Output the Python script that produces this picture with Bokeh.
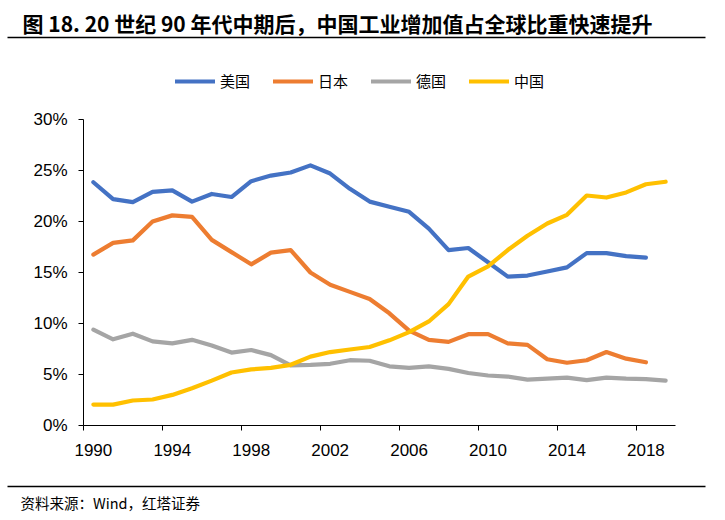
from bokeh.plotting import figure
from bokeh.models import (Range1d, FixedTicker, Legend, LegendItem, Label,
                          BoxAnnotation, LinearAxis)
from bokeh.embed import file_html
from bokeh.resources import INLINE

# ---- data ----
years = list(range(1990, 2020))
usa = [23.85, 22.2, 21.9, 22.9, 23.05, 21.95, 22.7, 22.4, 23.95, 24.5,
       24.8, 25.5, 24.7, 23.2, 21.95, 21.45, 20.95, 19.3, 17.2, 17.4,
       16.0, 14.6, 14.7, 15.1, 15.5, 16.9, 16.9, 16.6, 16.45]
japan = [16.75, 17.9, 18.15, 20.0, 20.6, 20.45, 18.2, 17.0, 15.8, 16.95,
         17.2, 15.0, 13.8, 13.1, 12.4, 11.0, 9.3, 8.4, 8.2, 8.95,
         8.95, 8.05, 7.9, 6.5, 6.15, 6.4, 7.2, 6.55, 6.2]
germany = [9.4, 8.45, 9.0, 8.25, 8.05, 8.4, 7.85, 7.15, 7.4, 6.9,
           5.9, 5.95, 6.05, 6.4, 6.35, 5.8, 5.65, 5.8, 5.55, 5.15,
           4.9, 4.8, 4.5, 4.6, 4.7, 4.45, 4.7, 4.6, 4.55, 4.4]
china = [2.05, 2.05, 2.45, 2.55, 3.0, 3.65, 4.4, 5.2, 5.5, 5.65,
         5.95, 6.75, 7.2, 7.45, 7.7, 8.35, 9.15, 10.2, 11.9, 14.6,
         15.6, 17.2, 18.6, 19.8, 20.65, 22.55, 22.35, 22.85, 23.65, 23.9]
series_names = ["美国", "日本", "德国", "中国"]
x_tick_years = [1990, 1994, 1998, 2002, 2006, 2010, 2014, 2018]
y_ticks = [0, 5, 10, 15, 20, 25, 30]
y_tick_labels = ["0%", "5%", "10%", "15%", "20%", "25%", "30%"]
title_text = "图 18. 20 世纪 90 年代中期后，中国工业增加值占全球比重快速提升"
source_text = "资料来源：Wind，红塔证券"

# ---- layout (pixels) ----
W, H = 717, 518
PL, PR = 83, 675        # plot area left / right
PT, PB = 119, 425       # plot area top / bottom
X0, X1 = years[0] - 0.5, years[-1] + 0.5
Y0, Y1 = y_ticks[0], y_ticks[-1]
sx = (PR - PL) / (X1 - X0)
sy = (PB - PT) / (Y1 - Y0)

colors = ["#4472C4", "#ED7D31", "#A5A5A5", "#FFC000"]
CJK = "Noto Sans CJK SC"
LAT = "Liberation Sans"

p = figure(width=W, height=H, min_border=0,
           x_range=Range1d(X0 - PL / sx, X1 + (W - PR) / sx),
           y_range=Range1d(Y0 - (H - PB) / sy, Y1 + PT / sy),
           x_axis_location=None, y_axis_location=None,
           output_backend="svg", toolbar_location=None)
p.outline_line_color = None
p.xgrid.visible = False
p.ygrid.visible = False
p.background_fill_color = "white"
p.border_fill_color = "white"
p.title.visible = False

renderers = []
for ys, c in zip([usa, japan, germany, china], colors):
    r = p.line(years[:len(ys)], ys, line_width=4.2, line_color=c,
               line_join="round", line_cap="round")
    renderers.append(r)

# y axis
ya = LinearAxis(fixed_location=X0, bounds=(Y0, Y1),
                ticker=FixedTicker(ticks=y_ticks))
ya.major_label_overrides = {t: l for t, l in zip(y_ticks, y_tick_labels)}
ya.major_tick_out = 5
ya.major_tick_in = 0
ya.minor_tick_out = 0
ya.minor_tick_in = 0
ya.axis_line_color = "#000000"
ya.major_tick_line_color = "#000000"
ya.major_label_text_font = LAT
ya.major_label_text_font_size = "17px"
ya.major_label_text_color = "#000000"
ya.major_label_standoff = 11
p.add_layout(ya, "left")

# x axis: category boundaries as minor ticks, labels at category centres
xa = LinearAxis(fixed_location=Y0, bounds=(X0, X1),
                ticker=FixedTicker(ticks=x_tick_years,
                                   minor_ticks=[t - 0.5 for t in x_tick_years]))
xa.major_label_overrides = {t: str(t) for t in x_tick_years}
xa.major_tick_out = 0
xa.major_tick_in = 0
xa.minor_tick_out = 5
xa.minor_tick_in = 0
xa.minor_tick_line_color = "#000000"
xa.axis_line_color = "#000000"
xa.major_label_text_font = LAT
xa.major_label_text_font_size = "17px"
xa.major_label_text_color = "#000000"
xa.major_label_standoff = 13
p.add_layout(xa, "below")

# legend
items = [LegendItem(label=n, renderers=[r]) for n, r in zip(series_names, renderers)]
legend = Legend(items=items, orientation="horizontal", location=(175, H - 91),
                glyph_width=40, glyph_height=16, label_standoff=5, spacing=23,
                padding=0, margin=0, border_line_color=None,
                background_fill_alpha=0,
                label_text_font=CJK, label_text_font_size="15px",
                label_text_color="#000000")
p.add_layout(legend)

# title
p.add_layout(Label(x=22, y=H - 22.5, x_units="screen", y_units="screen",
                   text=title_text, text_font=CJK, text_font_style="bold",
                   text_font_size="21px", text_baseline="middle",
                   text_color="#000000"))
# source
p.add_layout(Label(x=20, y=H - 502, x_units="screen", y_units="screen",
                   text=source_text, text_font=CJK, text_font_size="14.5px",
                   text_baseline="middle", text_color="#000000"))
# rules under title and above source
for yc in (37, 486):
    p.add_layout(BoxAnnotation(left=7, right=705, bottom=H - yc - 0.75, top=H - yc + 0.75,
                               left_units="screen", right_units="screen",
                               bottom_units="screen", top_units="screen",
                               fill_color="#000000", fill_alpha=1, line_color=None))

open("out.html", "w").write(file_html(p, INLINE))
